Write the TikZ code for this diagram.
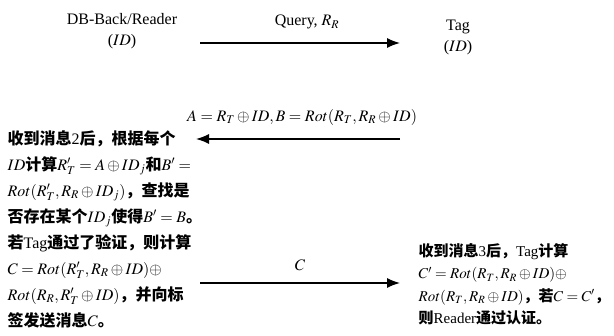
\documentclass[tikz,border=0pt]{standalone}
\usepackage{mathptmx}
\usepackage{fontspec}
\setmainfont{Liberation Serif}
\newfontfamily\cjk{Noto Sans CJK SC}
\usepackage{tikz}
\usetikzlibrary{arrows.meta}
\tikzset{>={Latex[length=13pt,width=10pt]}}
\newcommand{\zh}[1]{{\cjk\bfseries #1}}
\newcommand{\msgpt}[3]{
    \coordinate (#1) at (#2,#3);
}

\begin{document}
\begin{tikzpicture}[x=1pt,y=-1pt,line width=1.4pt,
    every node/.style={inner sep=0pt,font=\fontsize{16}{21}\selectfont}]
            \useasboundingbox (0,0) rectangle (614,336);
            \msgpt{q1}{200}{43}
            \msgpt{q2}{400}{43}
            \msgpt{a1}{400}{139}
            \msgpt{a2}{196}{139}
            \msgpt{c1}{200}{283}
            \msgpt{c2}{400}{283}
            \node[align=center] (reader) at (122,31) {DB-Back/Reader\\($ID$)};
            \node[align=center] (tag) at (458,37) {Tag\\($ID$)};
            \draw[->] (q1) -- (q2) node[pos=.535,above=13pt] (query) {Query, $R_R$};
            \draw[->] (a1) -- (a2) node[pos=.48,above=13pt] (msgab) {$A = R_T \oplus ID, B = Rot(R_T, R_R \oplus ID)$};
            \draw[->] (c1) -- (c2) node[midway,above=12pt] (msgc) {$C$};
            \node[align=left,anchor=north west,font=\fontsize{16}{26}\selectfont] (check) at (7,130) {
                \zh{收到消息}2\zh{后，根据每个}\\
                $ID$\zh{计算}$R'_T = A \oplus ID_j$\zh{和}$B' =$\\
                $Rot(R'_T, R_R \oplus ID_j)$\zh{，查找是}\\
                \zh{否存在某个}$ID_j$\zh{使得}$B' = B$\zh{。}\\
                \zh{若}Tag\zh{通过了验证，则计算}\\
                $C = Rot(R'_T, R_R \oplus ID) \oplus$\\
                $Rot(R_R, R'_T \oplus ID)$\zh{，并向标}\\
                \zh{签发送消息}$C$\zh{。}};
            \node[align=left,anchor=north west,font=\fontsize{15}{22.3}\selectfont] (verify) at (418,243) {
                \zh{收到消息}3\zh{后，}Tag\zh{计算}\\
                $C' = Rot(R_T, R_R \oplus ID) \oplus$\\
                $Rot(R_T, R_R \oplus ID)$\zh{，若}$C = C'$\zh{，}\\
                \zh{则}Reader\zh{通过认证。}};
        \end{tikzpicture}
\end{document}
